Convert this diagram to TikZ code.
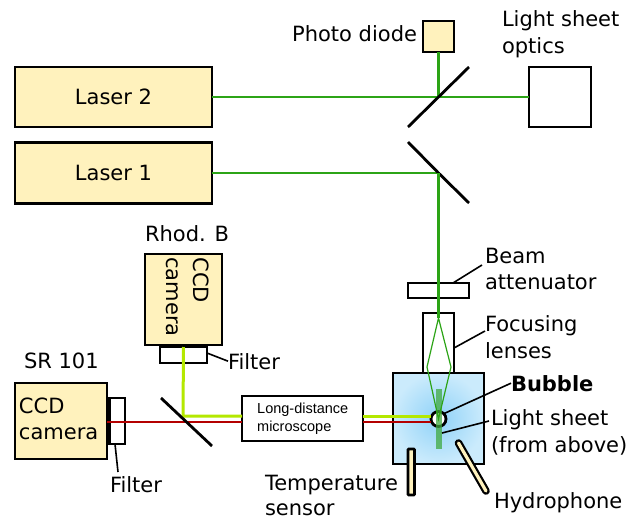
\documentclass[tikz,border=0pt]{standalone}
\usepackage{fontspec}
\setmainfont{DejaVu Sans}
\newfontfamily\arialfont{Liberation Sans}
\usepackage{tikz}
\usetikzlibrary{shapes,positioning}

\definecolor{cream}{HTML}{FFF2BD}
\definecolor{beamgreen}{HTML}{2CA416}
\definecolor{beamyellow}{HTML}{B4E800}
\definecolor{beamred}{HTML}{B40000}
\definecolor{cellin}{HTML}{8FD2F8}
\definecolor{cellout}{HTML}{CBEBFC}

\tikzset{
  part/.style={draw=black,line width=2.8pt,inner sep=0pt,outer sep=0pt,align=center},
  creampart/.style={part,fill=cream},
  whitepart/.style={part,fill=white},
  mirror/.style={line width=2.8pt,black},
  leader/.style={line width=1.6pt,black},
  beamg/.style={line width=2.8pt,beamgreen},
  beamy/.style={line width=3pt,beamyellow},
  beamr/.style={line width=2.4pt,beamred},
  label/.style={inner sep=0pt,outer sep=0pt,align=left,font=\fontsize{21}{26.5}\selectfont},
}

\begin{document}
\begin{tikzpicture}[x=1pt,y=-1pt]
\useasboundingbox (0,0) rectangle (630,517);

\coordinate (split2) at (438.5,97);
\coordinate (split1) at (438.5,173);
\coordinate (splitcam) at (183,416);
\coordinate (redcam) at (183,422);

% upper part
\node[creampart,minimum width=197pt,minimum height=60pt,font=\fontsize{21}{25}\selectfont] (laser2) at (113.5,97) {Laser 2};
\node[creampart,minimum width=197pt,minimum height=61pt,font=\fontsize{21}{25}\selectfont] (laser1) at (113.5,173) {Laser 1};
\node[creampart,minimum width=31pt,minimum height=31pt] (diode) at (438.5,36.5) {};
\node[whitepart,minimum width=62pt,minimum height=60pt] (optics) at (560,97) {};
\node[whitepart,minimum width=61pt,minimum height=15pt] (atten) at (438.5,290.5) {};
\node[whitepart,minimum width=31pt,minimum height=60pt] (focus) at (438.5,343) {};
\node[part,shading=radial,inner color=cellin,outer color=cellout,minimum width=91pt,minimum height=91pt] (cell) at (438.5,418.5) {};

\draw[beamg] (laser2.east) -- (split2) -- (optics.west);
\draw[beamg] (diode.south) -- (split2);
\draw[beamg] (laser1.east) -- (split1) -- (focus.north);

\draw[mirror] (408,127) -- (split2) -- (469,67);
\draw[mirror] (408,142) -- (split1) -- (469,203);

% cameras
\node[creampart,minimum width=77pt,minimum height=91pt] (rhodcam) at (183.5,299.5) {};
\node[whitepart,minimum width=47pt,minimum height=16pt] (rhodfilter) at (183.5,355) {};
\node[creampart,minimum width=92pt,minimum height=76pt] (srcam) at (61,421) {};
\node[whitepart,minimum width=16pt,minimum height=46pt] (srfilter) at (117,421) {};
\node[whitepart,minimum width=121pt,minimum height=45pt] (micro) at (302.5,418.5) {};
\node[inner sep=0pt,anchor=west,align=left,font=\arialfont\fontsize{14.5}{18.5}\selectfont] (microtext) at (257,418.5) {Long-distance\\microscope};

\fill[black] (160,344) rectangle (207,348);
\fill[black] (106,398) rectangle (110.5,444);

% cell contents
\coordinate (bubleft) at (431,416);
\coordinate (redleft) at (431,422);
\node[circle,draw=black,fill=white,line width=2.8pt,inner sep=0pt,outer sep=0pt,minimum size=15pt] (bubble) at (438.5,419) {};
\fill[green!55!black!75,opacity=.75] (435.5,389) rectangle (441.5,449);

\draw[beamy] (rhodfilter.north) -- (splitcam) -- (micro.west |- splitcam);
\draw[beamr] (srcam.east |- redcam) -- (micro.west |- redcam);
\draw[beamy] (micro.east |- splitcam) -- (bubleft);
\draw[beamr] (micro.east |- redcam) -- (redleft);
\draw[mirror] (161,398) -- (212,446);

\draw[beamgreen,line width=1.2pt] (438.5,318) -- (427,367) -- (438.5,419) -- (451,367) -- cycle;
\draw[beamg] (split1) -- (438.5,318);

% probes
\draw[line width=2.6pt,fill=cream,rounded corners=.8pt] (408,449) rectangle (414.5,495);
\draw[line width=7.6pt,line cap=round,black] (458.5,443) -- (486,491);
\draw[line width=3.2pt,line cap=round,cream] (458.5,443) -- (486,491);

% labels
\node[label,anchor=north west] at (265,475) [font=\fontsize{21}{25}\selectfont] (templab) {Temperature\\sensor};
\node[label,anchor=base east] (diodelab) at (417,41) {Photo diode};
\node[label,anchor=north west] (opticslab) at (502,11) {Light sheet\\optics};
\node[label,anchor=base west] (rhodlab) at (145,241) {Rhod. B};
\node[label,anchor=base west] (srlab) at (24,368) {SR 101};
\node[label,anchor=north west] (beamlab) at (485,248) {Beam\\attenuator};
\node[label,anchor=north west] (focuslab) at (485,316) {Focusing\\lenses};
\node[label,anchor=base west,font=\fontsize{21}{25}\selectfont\bfseries] (bubblelab) at (511,391) {Bubble};
\node[label,anchor=north west] (sheetlab) at (491,410) {Light sheet\\(from above)};
\node[label,anchor=base west] (hydrolab) at (494,508) {Hydrophone};
\node[label,anchor=base west] (filterup) at (228,369) {Filter};
\node[label,anchor=base west] (filterlow) at (110,492) {Filter};
\node[label,anchor=west] (srtext) at (19,419) {CCD\\camera};
\node[label,anchor=north,rotate=-90] (rhodtext) at (209,297) {CCD\\camera};

% leaders
\draw[leader] (453,283) -- (482,265);
\draw[leader] (focus.east |- 0,348) -- (485,331);
\draw[leader] (bubble.north east) -- (bubblelab.west);
\draw[leader] (442,433) -- (489,421);
\draw[leader] (rhodfilter.north east) ++(0,6) -- (filterup.west);
\draw[leader] (115,444) -- (118,472);
\end{tikzpicture}
\end{document}
